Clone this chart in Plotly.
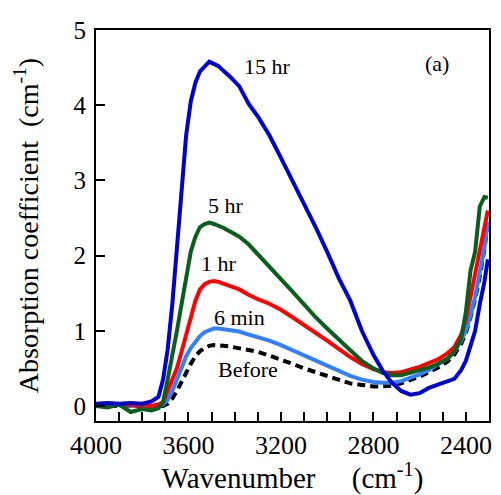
import plotly.graph_objects as go

# wavenumber grid (cm-1)
wavenumber = [4000, 3950, 3900, 3850, 3800, 3760, 3730, 3710, 3690, 3670, 3650, 3630,
              3610, 3590, 3570, 3550, 3530, 3510, 3490, 3470, 3450, 3420, 3380, 3340,
              3300, 3250, 3200, 3150, 3100, 3050, 3000, 2950, 2900, 2850, 2800, 2760,
              2720, 2680, 2640, 2600, 2560, 2520, 2480, 2450, 2420, 2400, 2380, 2360,
              2340, 2320, 2305]

before = [0.0, 0.0, 0.01, 0.0, 0.0, -0.01, -0.01, 0.0, 0.03, 0.1, 0.2, 0.32,
          0.45, 0.56, 0.66, 0.73, 0.77, 0.8, 0.81, 0.81, 0.8, 0.79, 0.77, 0.75,
          0.72, 0.67, 0.62, 0.56, 0.5, 0.45, 0.39, 0.34, 0.3, 0.28, 0.26, 0.26,
          0.27, 0.3, 0.34, 0.39, 0.45, 0.51, 0.59, 0.68, 0.83, 0.97, 1.18, 1.42,
          1.72, 2.08, 2.45]

min6 = [0.01, 0.02, 0.01, 0.0, 0.01, 0.0, 0.0, 0.02, 0.08, 0.2, 0.35, 0.52,
        0.66, 0.77, 0.86, 0.93, 0.98, 1.01, 1.03, 1.03, 1.02, 1.0, 0.99, 0.95,
        0.92, 0.87, 0.81, 0.74, 0.67, 0.6, 0.53, 0.46, 0.4, 0.35, 0.32, 0.31,
        0.31, 0.33, 0.37, 0.42, 0.48, 0.55, 0.63, 0.72, 0.87, 1.0, 1.2, 1.45,
        1.75, 2.1, 2.45]

hr1 = [0.02, 0.03, 0.02, 0.01, 0.0, 0.0, 0.02, 0.05, 0.2, 0.35, 0.5, 0.72,
       0.95, 1.2, 1.4, 1.55, 1.62, 1.65, 1.66, 1.65, 1.63, 1.6, 1.55, 1.48,
       1.42, 1.36, 1.28, 1.18, 1.08, 0.97, 0.87, 0.76, 0.65, 0.56, 0.49, 0.45,
       0.44, 0.45, 0.48, 0.52, 0.57, 0.62, 0.7, 0.78, 0.95, 1.15, 1.45, 1.75,
       2.1, 2.4, 2.6]

hr5 = [0.0, -0.02, 0.02, -0.08, -0.04, -0.06, -0.03, 0.05, 0.35, 0.65, 1.0, 1.35,
       1.7, 2.05, 2.25, 2.38, 2.42, 2.44, 2.42, 2.4, 2.37, 2.32, 2.25, 2.15,
       2.02, 1.85, 1.68, 1.52, 1.35, 1.18, 1.03, 0.88, 0.74, 0.6, 0.5, 0.44,
       0.41, 0.41, 0.44, 0.47, 0.51, 0.56, 0.63, 0.72, 0.9, 1.25, 1.8, 2.05,
       2.65, 2.78, 2.77]

hr15 = [0.03, 0.04, 0.03, 0.04, 0.03, 0.06, 0.12, 0.35, 0.75, 1.35, 2.1, 2.9,
        3.6, 4.05, 4.3, 4.45, 4.52, 4.58, 4.55, 4.52, 4.46, 4.38, 4.25, 4.02,
        3.85, 3.6, 3.3, 3.0, 2.7, 2.38, 2.05, 1.7, 1.4, 1.0, 0.68, 0.47,
        0.31, 0.2, 0.15, 0.17, 0.24, 0.28, 0.32, 0.36, 0.48, 0.6, 0.8, 1.0,
        1.35, 1.65, 1.95]

FONT = "Liberation Serif"

fig = go.Figure()
fig.add_trace(go.Scatter(x=wavenumber, y=before, mode="lines",
                         line=dict(color="black", width=4, dash="8px,5px")))
fig.add_trace(go.Scatter(x=wavenumber, y=min6, mode="lines",
                         line=dict(color="#3380ff", width=4)))
fig.add_trace(go.Scatter(x=wavenumber, y=hr1, mode="lines",
                         line=dict(color="#ff0000", width=4)))
fig.add_trace(go.Scatter(x=wavenumber, y=hr5, mode="lines",
                         line=dict(color="#0b5f1c", width=4)))
fig.add_trace(go.Scatter(x=wavenumber, y=hr15, mode="lines",
                         line=dict(color="#0000d0", width=4)))

labels = [("15 hr", 3260, 4.52), ("(a)", 2525, 4.55), ("5 hr", 3438, 2.67),
          ("1 hr", 3468, 1.89), ("6 min", 3381, 1.18), ("Before", 3342, 0.49)]
for txt, lx, ly in labels:
    fig.add_annotation(x=lx, y=ly, text=txt, showarrow=False,
                       font=dict(family=FONT, size=22, color="black"))

# page body has an 8px margin, so the figure is a bit smaller than the window
fig.update_layout(
    width=493, height=487,
    margin=dict(l=88, r=12, t=22, b=74),
    paper_bgcolor="white", plot_bgcolor="white",
    showlegend=False,
    font=dict(family=FONT, color="black"),
)
fig.update_xaxes(
    range=[4000, 2300], tick0=4000, dtick=400, automargin=False,
    showgrid=False, zeroline=False,
    showline=True, mirror=True, linecolor="black", linewidth=2,
    ticks="inside", ticklen=9, tickwidth=1.5, tickcolor="black",
    minor=dict(dtick=100, ticks="inside", ticklen=9, tickwidth=1.5, tickcolor="black"),
    tickfont=dict(family=FONT, size=26), ticklabelstandoff=0,
    title=dict(text="Wavenumber     (cm<sup>-1</sup>)", font=dict(family=FONT, size=29), standoff=5),
)
fig.update_yaxes(
    range=[-0.2, 5], tick0=0, dtick=1, automargin=False,
    showgrid=False, zeroline=False,
    showline=True, mirror=True, linecolor="black", linewidth=2,
    ticks="inside", ticklen=9, tickwidth=1.5, tickcolor="black",
    tickfont=dict(family=FONT, size=25), ticklabelstandoff=3,
    title=dict(text="Absorption coefficient  (cm<sup>-1</sup>)", font=dict(family=FONT, size=28), standoff=27),
)

fig.write_html("out.html")
